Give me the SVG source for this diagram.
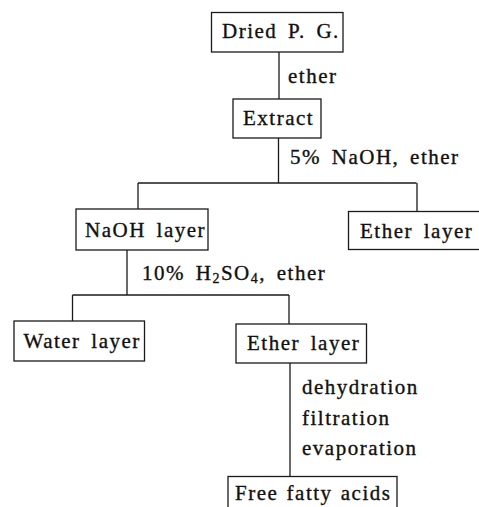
<svg xmlns="http://www.w3.org/2000/svg" width="479" height="507" viewBox="0 0 479 507">
<style>
.box{fill:none;stroke:#1a1a1a;stroke-width:1.3}
.ln{fill:none;stroke:#1a1a1a;stroke-width:1.3}
text{font-family:"Liberation Serif","Times New Roman",serif;font-size:21px;fill:#111;stroke:#111;stroke-width:0.35;letter-spacing:1.5px;word-spacing:4px}
</style>
<rect width="479" height="507" fill="#fff"/>
<g id="connectors">
<path class="ln" d="M279,52 V99"/>
<path class="ln" d="M278.5,138 V183"/>
<path class="ln" d="M138,183 H416.5"/>
<path class="ln" d="M138,183 V209"/>
<path class="ln" d="M417,183 V211.5"/>
<path class="ln" d="M127,250 V295"/>
<path class="ln" d="M72.5,295 H289"/>
<path class="ln" d="M72.5,295 V321"/>
<path class="ln" d="M289,295 V324"/>
<path class="ln" d="M290,363 V476.5"/>
</g>
<g id="labels">
<text x="288" y="83">ether</text>
<text x="290" y="164">5% NaOH, ether</text>
<text x="142" y="280">10% H<tspan font-size="14" dy="3">2</tspan><tspan dy="-3">SO</tspan><tspan font-size="14" dy="3">4</tspan><tspan dy="-3">, ether</tspan></text>
<text x="302" y="394">dehydration</text>
<text x="302" y="425">filtration</text>
<text x="302" y="455">evaporation</text>
</g>
<g id="n_dried">
<rect class="box" x="211.5" y="12.5" width="131.5" height="39.5"/>
<text x="222" y="37.5">Dried P. G.</text>
</g>
<g id="n_extract">
<rect class="box" x="233" y="99" width="88" height="39"/>
<text x="243" y="125">Extract</text>
</g>
<g id="n_naoh">
<rect class="box" x="76" y="209" width="132" height="41"/>
<text x="85" y="237">NaOH layer</text>
</g>
<g id="n_ether1">
<rect class="box" x="348.5" y="211.5" width="140" height="38"/>
<text x="360" y="238">Ether layer</text>
</g>
<g id="n_water">
<rect class="box" x="14" y="321" width="130.5" height="40"/>
<text x="23.5" y="348">Water layer</text>
</g>
<g id="n_ether2">
<rect class="box" x="236" y="324" width="130.5" height="39"/>
<text x="247" y="350">Ether layer</text>
</g>
<g id="n_ffa">
<rect class="box" x="228" y="476.5" width="169" height="40"/>
<text x="235" y="500" style="word-spacing:1.5px">Free fatty acids</text>
</g>
</svg>
